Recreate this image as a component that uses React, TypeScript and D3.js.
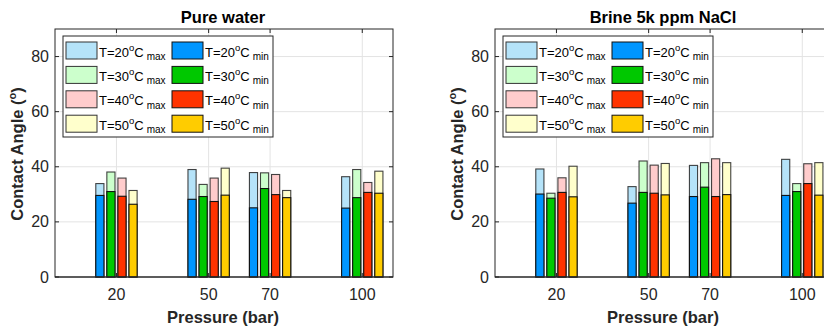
import React from "react";
import * as d3 from "d3";

const pressures = [20, 50, 70, 100];
const yTicks = [0, 20, 40, 60, 80];
const tempLabels = ["20", "30", "40", "50"];
const panelTitles = ["Pure water", "Brine 5k ppm NaCl"];

// Pure water: max / min contact angle per temperature, at pressures 20,50,70,100
const pureT20Max = [33.9, 39.0, 37.9, 36.4];
const pureT20Min = [29.6, 28.2, 25.1, 25.0];
const pureT30Max = [38.1, 33.6, 37.8, 39.0];
const pureT30Min = [31.0, 29.2, 32.1, 28.8];
const pureT40Max = [35.9, 35.9, 37.2, 34.3];
const pureT40Min = [29.3, 27.4, 29.9, 30.7];
const pureT50Max = [31.4, 39.5, 31.4, 38.4];
const pureT50Min = [26.4, 29.7, 28.8, 30.4];

// Brine 5k ppm NaCl
const brineT20Max = [39.2, 32.8, 40.5, 42.7];
const brineT20Min = [30.1, 26.8, 29.2, 29.6];
const brineT30Max = [30.4, 42.1, 41.5, 33.9];
const brineT30Min = [28.6, 30.7, 32.6, 31.0];
const brineT40Max = [36.0, 40.6, 42.9, 41.1];
const brineT40Min = [30.7, 30.4, 29.2, 33.9];
const brineT50Max = [40.2, 41.2, 41.5, 41.5];
const brineT50Min = [29.1, 29.8, 29.9, 29.7];

const maxColors = ["#B5E3F9", "#CCFFCC", "#FFCCCC", "#FFFFCC"];
const minColors = ["#0096FF", "#00C800", "#FF3300", "#FFCC00"];

const panels = [
  {
    title: panelTitles[0],
    maxSeries: [pureT20Max, pureT30Max, pureT40Max, pureT50Max],
    minSeries: [pureT20Min, pureT30Min, pureT40Min, pureT50Min],
    left: 55,
  },
  {
    title: panelTitles[1],
    maxSeries: [brineT20Max, brineT30Max, brineT40Max, brineT50Max],
    minSeries: [brineT20Min, brineT30Min, brineT40Min, brineT50Min],
    left: 495,
  },
];

const offsets = [-5.4, -1.8, 1.8, 5.4];
const barWidthUnits = 2.65;
const TOP = 29;
const BOTTOM = 277;
const WIDTH = 338;
const AX = "#262626";
const FONT = "'Liberation Sans', Arial, Helvetica, sans-serif";

function Panel({ p }: { p: (typeof panels)[number] }) {
  const x = d3.scaleLinear().domain([0, 110]).range([p.left, p.left + WIDTH]);
  const y = d3.scaleLinear().domain([0, 90]).range([BOTTOM, TOP]);
  const bw = x(barWidthUnits) - x(0);
  const right = p.left + WIDTH;
  const cx = p.left + WIDTH / 2 - 1;
  const legX = p.left + 8;
  const legY = 36;
  return (
    <g fontFamily={FONT}>
      {/* grid */}
      {pressures.map((v) => (
        <line key={"gx" + v} x1={x(v)} x2={x(v)} y1={TOP} y2={BOTTOM} stroke="#e3e3e3" strokeWidth={1} />
      ))}
      {yTicks.slice(1).map((v) => (
        <line key={"gy" + v} x1={p.left} x2={right} y1={y(v)} y2={y(v)} stroke="#e3e3e3" strokeWidth={1} />
      ))}
      {/* bars: max behind, min in front */}
      {pressures.map((pr, i) =>
        offsets.map((o, k) => (
          <g key={"b" + i + "-" + k}>
            <rect
              x={x(pr + o) - bw / 2}
              y={y(p.maxSeries[k][i])}
              width={bw}
              height={y(0) - y(p.maxSeries[k][i])}
              fill={maxColors[k]}
              stroke="#222"
              strokeOpacity={0.85}
              strokeWidth={1.1}
            />
            <rect
              x={x(pr + o) - bw / 2}
              y={y(p.minSeries[k][i])}
              width={bw}
              height={y(0) - y(p.minSeries[k][i])}
              fill={minColors[k]}
              stroke="#111"
              strokeWidth={1.1}
            />
          </g>
        ))
      )}
      {/* axes box */}
      <rect x={p.left} y={TOP} width={WIDTH} height={BOTTOM - TOP} fill="none" stroke={AX} strokeWidth={1} />
      <line x1={p.left} x2={right} y1={BOTTOM} y2={BOTTOM} stroke={AX} strokeWidth={1.2} />
      {/* ticks */}
      {pressures.map((v) => (
        <g key={"tx" + v}>
          <line x1={x(v)} x2={x(v)} y1={BOTTOM} y2={BOTTOM - 4} stroke={AX} />
          <line x1={x(v)} x2={x(v)} y1={TOP} y2={TOP + 4} stroke={AX} />
          <text x={x(v)} y={300} textAnchor="middle" fontSize={16} fill={AX}>
            {v}
          </text>
        </g>
      ))}
      {yTicks.map((v) => (
        <g key={"ty" + v}>
          <line x1={p.left} x2={p.left + 4} y1={y(v)} y2={y(v)} stroke={AX} />
          <line x1={right} x2={right - 4} y1={y(v)} y2={y(v)} stroke={AX} />
          <text x={p.left - 6} y={y(v) + 5.5} textAnchor="end" fontSize={16} fill={AX}>
            {v}
          </text>
        </g>
      ))}
      {/* title */}
      <text x={cx} y={23} textAnchor="middle" fontSize={16.5} fontWeight="bold" fill="#000">
        {p.title}
      </text>
      {/* x label */}
      <text x={cx} y={323} textAnchor="middle" fontSize={16.5} fontWeight="bold" fill={AX}>
        Pressure (bar)
      </text>
      {/* y label */}
      <text
        transform={`translate(${p.left - 32},${(TOP + BOTTOM) / 2 + 1}) rotate(-90)`}
        textAnchor="middle"
        fontSize={16.5}
        fontWeight="bold"
        fill={AX}
      >
        Contact Angle (
        <tspan fontSize={11} dy={-7}>
          o
        </tspan>
        <tspan dy={7}>)</tspan>
      </text>
      {/* legend */}
      <rect x={legX} y={legY} width={210} height={101} fill="#fff" stroke={AX} strokeWidth={1} />
      {tempLabels.map((t, k) => {
        const ry = legY + 6 + k * 24.4;
        return (
          <g key={"leg" + k}>
            {[0, 1].map((c) => {
              const sx = legX + 3 + c * 106;
              return (
                <g key={"c" + c}>
                  <rect
                    x={sx}
                    y={ry}
                    width={31}
                    height={17}
                    fill={c === 0 ? maxColors[k] : minColors[k]}
                    stroke={c === 0 ? "#333" : "#111"}
                    strokeWidth={1}
                  />
                  <text x={sx + 33} y={ry + 14.5} fontSize={13} fill="#000">
                    T={t}
                    <tspan fontSize={9.5} dy={-6}>
                      o
                    </tspan>
                    <tspan dy={6}>C</tspan>
                    <tspan fontSize={10} dy={3.5} dx={3}>
                      {c === 0 ? "max" : "min"}
                    </tspan>
                  </text>
                </g>
              );
            })}
          </g>
        );
      })}
    </g>
  );
}

export default function App() {
  return (
    <svg
      width={824}
      height={330}
      style={{ position: "absolute", left: 0, top: 0, background: "#fff" }}
    >
      <rect x={0} y={0} width={824} height={330} fill="#fff" />
      {panels.map((p, i) => (
        <Panel key={i} p={p} />
      ))}
    </svg>
  );
}
